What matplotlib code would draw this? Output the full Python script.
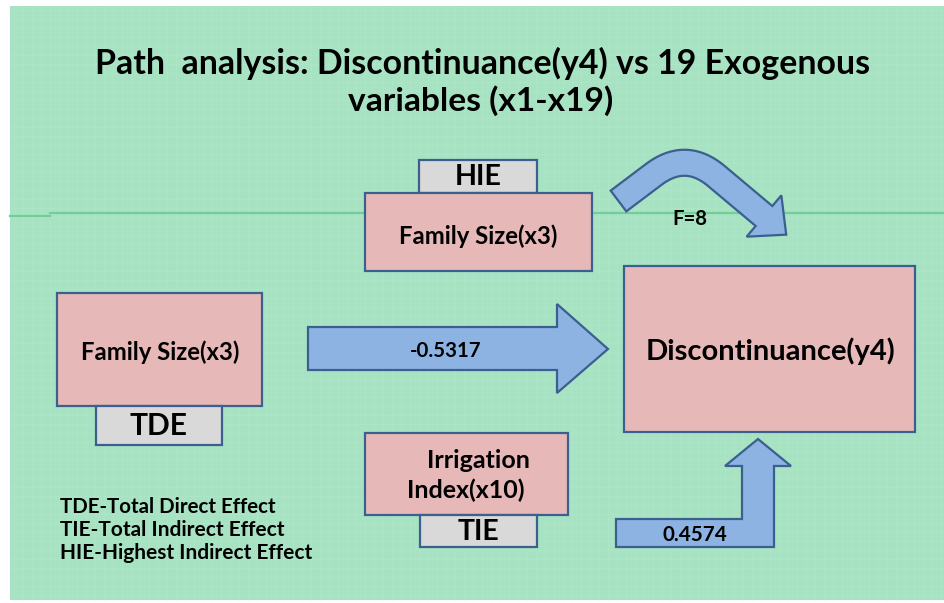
import numpy as np
import matplotlib
matplotlib.use('Agg')
import matplotlib.pyplot as plt
from matplotlib.patches import Rectangle, Polygon

# ---------------- data (text content of the diagram) ----------------
title_lines = ["Path  analysis: Discontinuance(y4) vs 19 Exogenous", "variables (x1-x19)"]
effect_labels = ["HIE", "TDE", "TIE"]
source_vars = ["Family Size(x3)", "Family Size(x3)", ["Irrigation", "Index(x10)"]]
target_var = "Discontinuance(y4)"
path_values = ["F=8", "-0.5317", "0.4574"]
legend_lines = ["TDE-Total Direct Effect", "TIE-Total Indirect Effect", "HIE-Highest Indirect Effect"]

# ---------------- styles ----------------
FONT = ['Lato', 'DejaVu Sans']
BG = '#a7e3c3'
GRID = '#b2e9cc'
LINE = '#74cc98'
PINK = '#e6b8b7'
GRAY = '#d9d9d9'
BLUE = '#8db3e2'
EDGE = '#3b5f8f'
LW = 1.6

W, H = 945, 603
fig = plt.figure(figsize=(9.45, 6.03), dpi=100)
ax = fig.add_axes([0, 0, 1, 1])
ax.set_xlim(0, W)
ax.set_ylim(H, 0)
ax.axis('off')
renderer = fig.canvas.get_renderer()


def put(x, y, s, width=None, ha='center', size0=20):
    t = ax.text(x, y, s, ha=ha, va='center', fontsize=size0, fontweight='bold',
                family=FONT, color='black', zorder=10)
    if width is not None:
        bb = t.get_window_extent(renderer)
        t.set_fontsize(size0 * width / bb.width)
    return t


def box(x0, y0, x1, y1, fc):
    ax.add_patch(Rectangle((x0, y0), x1 - x0, y1 - y0, facecolor=fc,
                           edgecolor=EDGE, lw=LW, zorder=5))


# background
ax.add_patch(Rectangle((10, 6), W - 10, 594, facecolor=BG, edgecolor='none', zorder=0))
for gx in np.arange(14, W, 9):
    ax.plot([gx, gx], [6, 600], color=GRID, lw=0.5, alpha=0.6, zorder=1)
for gy in np.arange(10, 600, 9):
    ax.plot([10, W], [gy, gy], color=GRID, lw=0.5, alpha=0.6, zorder=1)
ax.plot([10, 50], [216, 216], color=LINE, lw=1.6, zorder=2)
ax.plot([50, W], [213, 213], color=LINE, lw=1.6, zorder=2)

# title
put(483, 63, title_lines[0], 773)
put(481, 101, title_lines[1], 265)

# boxes
box(419, 160, 537, 193, GRAY)            # HIE
box(365, 193, 592, 271, PINK)            # top Family Size
box(57, 293, 262, 406, PINK)             # left Family Size
box(96, 406, 222, 445, GRAY)             # TDE
box(624, 266, 915, 432, PINK)            # Discontinuance
box(365, 433, 568, 515, PINK)            # Irrigation
box(420, 515, 537, 547, GRAY)            # TIE

put(478, 177, effect_labels[0], 47)
fs_t = put(478, 236, source_vars[0], 158)
put(160, 352, source_vars[1], 158)
put(159, 426, effect_labels[1], 58)
put(770, 351, target_var, 250)
sz = fs_t.get_fontsize() * 1.05
put(478, 461, source_vars[2][0], size0=sz)
put(466, 490, source_vars[2][1], size0=sz)
put(479, 532, effect_labels[2], 42)

# straight arrow (TDE)
ax.add_patch(Polygon([(308, 327), (557, 327), (557, 304), (608, 349), (557, 393),
                      (557, 370), (308, 370)], closed=True, facecolor=BLUE,
                     edgecolor=EDGE, lw=LW, zorder=5))
put(446, 351, path_values[1], 72)

# bent-up arrow (TIE)
ax.add_patch(Polygon([(616, 519), (742, 519), (742, 466), (725, 466), (758, 439),
                      (791, 466), (774, 466), (774, 547), (616, 547)], closed=True,
                     facecolor=BLUE, edgecolor=EDGE, lw=LW, zorder=5))
put(695, 535, path_values[2], 65)

# curved arrow (HIE)
A = np.array([618.5, 201.0])
E = np.array([764.0, 216.0])
d1 = np.array([np.cos(np.radians(37)), -np.sin(np.radians(37))])
d2 = np.array([np.cos(np.radians(40)), np.sin(np.radians(40))])
M = np.array([[d1[0], d2[0]], [d1[1], d2[1]]])
s, u = np.linalg.solve(M, E - A)
K = A + s * d1
R = 40
Q1 = K - R * d1
Q2 = K + R * d2
pts = []
for t in np.linspace(0, 1, 20):
    pts.append(A + t * (Q1 - A))
for t in np.linspace(0, 1, 40)[1:]:
    pts.append((1 - t) ** 2 * Q1 + 2 * (1 - t) * t * K + t ** 2 * Q2)
for t in np.linspace(0, 1, 20)[1:]:
    pts.append(Q2 + t * (E - Q2))
pts = np.array(pts)
tang = np.gradient(pts, axis=0)
tang /= np.linalg.norm(tang, axis=1)[:, None]
nrm = np.stack([tang[:, 1], -tang[:, 0]], axis=1)
hw = 13
upper = pts + hw * nrm
lower = pts - hw * nrm
nE = nrm[-1]
dE = tang[-1]
head = [E + 27 * nE, E + 29 * dE, E - 27 * nE]
poly = np.vstack([upper, head, lower[::-1]])
ax.add_patch(Polygon(poly, closed=True, facecolor=BLUE, edgecolor=EDGE, lw=LW, zorder=5))
put(690, 219, path_values[0], 35)

# legend text
put(60, 507, legend_lines[0], 217, ha='left')
put(60, 530, legend_lines[1], 225, ha='left')
put(60, 553, legend_lines[2], 253, ha='left')

fig.savefig('out.png', dpi=100)
